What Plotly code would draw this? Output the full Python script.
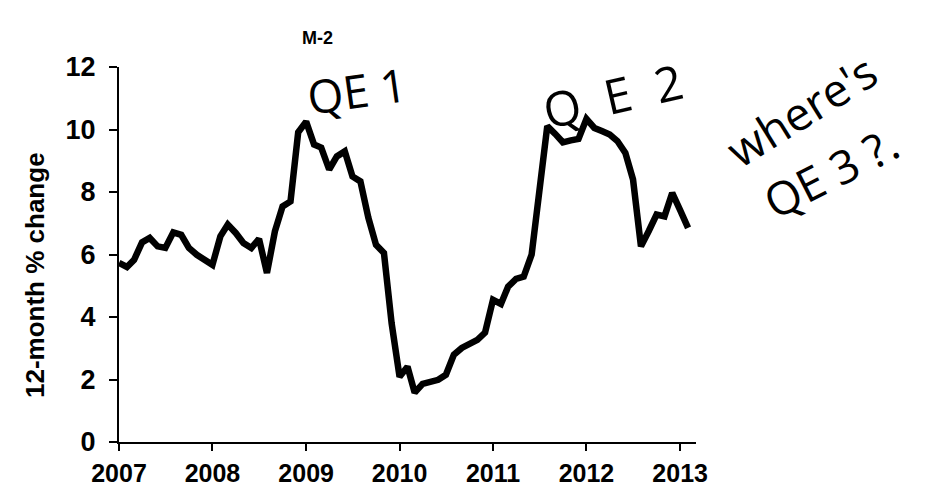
import pandas as pd
import plotly.graph_objects as go

# 12-month % change of M-2, monthly, Jan 2007 - Feb 2013
m2_growth = [
    5.73, 5.60, 5.83, 6.39, 6.53, 6.26, 6.21, 6.71, 6.63, 6.21, 5.99, 5.83,   # 2007
    5.67, 6.58, 6.96, 6.69, 6.37, 6.21, 6.50, 5.41, 6.74, 7.54, 7.70, 9.91,   # 2008
    10.25, 9.52, 9.42, 8.72, 9.14, 9.30, 8.50, 8.34, 7.18, 6.31, 6.05, 3.80,  # 2009
    2.09, 2.41, 1.58, 1.86, 1.90, 1.99, 2.15, 2.79, 3.01, 3.14, 3.27, 3.50,   # 2010
    4.55, 4.42, 4.97, 5.22, 5.29, 6.00, 7.86, 10.11, 9.86, 9.59, 9.65, 9.70,  # 2011
    10.34, 10.05, 9.95, 9.84, 9.63, 9.25, 8.40, 6.26, 6.76, 7.28, 7.22, 7.97, # 2012
    7.42, 6.85,                                                               # 2013
]
months = pd.date_range("2007-01-01", periods=len(m2_growth), freq="MS")

year_ticks = ["2007-01-01", "2008-01-01", "2009-01-01", "2010-01-01",
              "2011-01-01", "2012-01-01", "2013-01-01"]
year_labels = ["2007", "2008", "2009", "2010", "2011", "2012", "2013"]
y_ticks = [0, 2, 4, 6, 8, 10, 12]

title_text = "M-2"
y_title = "12-month % change"
NB = "\u00a0"
notes = ["QE 1", "Q" + NB * 2 + "E" + NB * 2 + "2", "where's", "QE 3 ?."]

L, R, T, B = 119, 696, 67, 442
W, H = 933, 488


def px(x, y):
    return (x - L) / (R - L), (B - y) / (B - T)


sans = "Liberation Sans, Arial"
hand = "Open Sans, Noto Sans, DejaVu Sans"

fig = go.Figure()
fig.add_trace(go.Scatter(
    x=months, y=m2_growth, mode="lines",
    line=dict(color="black", width=6.5),
    hoverinfo="skip", showlegend=False,
))

anns = []


def add_text(txt, x, y, font, angle=0):
    ax, ay = px(x, y)
    anns.append(dict(text=txt, x=ax, y=ay, xref="paper", yref="paper",
                     xanchor="center", yanchor="middle", textangle=angle,
                     showarrow=False, font=font))


add_text(title_text, 317, 38, dict(family=sans, size=18, color="black", weight="bold"))
add_text(y_title, 35, 275, dict(family=sans, size=26, color="black", weight="bold"), -90)

hand_specs = [
    (notes[0], 357, 90, -8, 46),
    (notes[1], 612, 95, -13, 48),
    (notes[2], 801, 110, -32, 46),
    (notes[3], 830, 172, -27, 46),
]
for txt, x, y, ang, sz in hand_specs:
    add_text(txt, x, y, dict(family=hand, size=sz, color="black"), ang)

fig.update_layout(
    width=W, height=H,
    margin=dict(l=L, r=W - R, t=T, b=H - B, pad=0),
    paper_bgcolor="white", plot_bgcolor="white",
    annotations=anns,
    xaxis=dict(
        type="date", range=["2007-01-01", "2013-03-04"],
        tickvals=year_ticks, ticktext=year_labels,
        showline=True, linecolor="black", linewidth=2,
        ticks="outside", ticklen=7, tickwidth=2, tickcolor="black",
        showgrid=False, zeroline=False, automargin=False,
        tickfont=dict(family=sans, size=25, color="black", weight="bold"),
        ticklabelstandoff=1,
    ),
    yaxis=dict(
        range=[0, 12], tickvals=y_ticks,
        showline=True, linecolor="black", linewidth=2,
        ticks="outside", ticklen=8, tickwidth=2, tickcolor="black",
        showgrid=False, zeroline=False, automargin=False,
        tickfont=dict(family=sans, size=27, color="black", weight="bold"),
        ticklabelstandoff=8,
    ),
)

fig.write_html(
    "out.html",
    config={"displayModeBar": False, "staticPlot": True},
    post_script="document.body.style.margin='0';document.body.style.overflow='hidden';",
)
